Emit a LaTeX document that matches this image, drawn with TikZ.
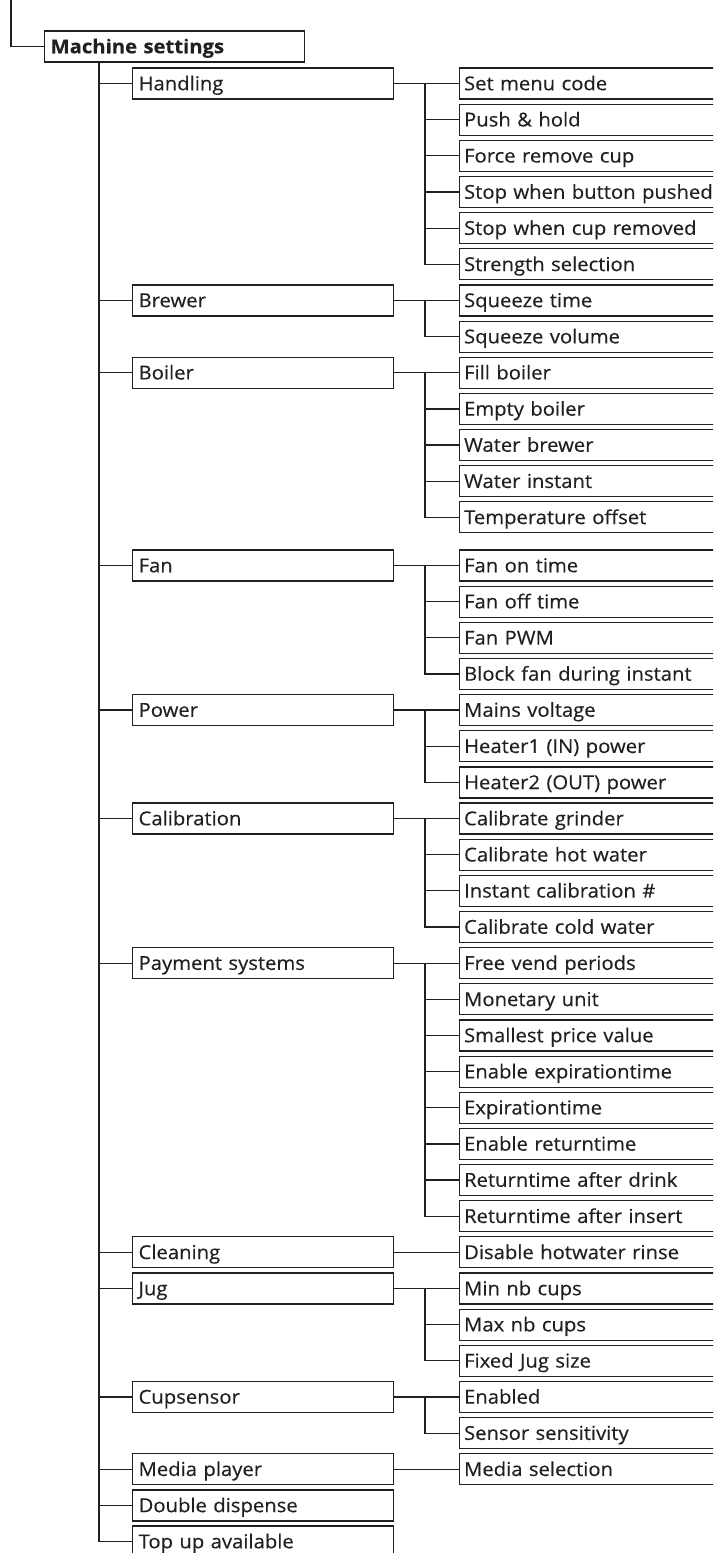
\documentclass[tikz,border=0pt]{standalone}
\usepackage{fontspec}
\setmainfont{Open Sans}[FakeStretch=1.055,FakeBold=0.35]
\usepackage{tikz}

\definecolor{ink}{RGB}{35,31,32}

\begin{document}
\begin{tikzpicture}[x=1pt,y=-1pt,color=ink,line width=1.2pt,
    font=\fontsize{19.2}{20}\selectfont,
    box/.style={draw,anchor=west,minimum height=31pt,inner xsep=6pt,
      text height=13.5pt,text depth=0pt,align=left},
    head/.style={box,text width=248pt,font=\fontsize{19.2}{20}\selectfont\bfseries},
    menu/.style={box,text width=249pt},
    item/.style={box,inner xsep=4.5pt,text width=300pt}]
  \useasboundingbox (0,0) rectangle (713,1553);
  \clip (0,0) rectangle (713,1553);

  \node[head] (ms) at (44,46.5) {Machine settings};
  \coordinate (top) at (11,0);
  \coordinate (trunk) at (99,62);
  \draw (top) |- (ms.west);

  \node[menu] (hand) at (132,83.5) {Handling};
  \node[menu] (brew) at (132,300.4) {Brewer};
  \node[menu] (boil) at (132,372.7) {Boiler};
  \node[menu] (fan) at (132,565.5) {Fan};
  \node[menu] (pow) at (132,710) {Power};
  \node[menu] (cal) at (132,818.5) {Calibration};
  \node[menu] (pay) at (132,963.1) {Payment systems};
  \node[menu] (clean) at (132,1252.3) {Cleaning};
  \node[menu] (jug) at (132,1288.5) {Jug};
  \node[menu] (cups) at (132,1396.9) {Cupsensor};
  \node[menu] (media) at (132,1469.2) {Media player};
  \node[menu] (dbl) at (132,1505.4) {Double dispense};
  \node[menu] (topup) at (132,1541.5) {Top up available};

  \foreach \m in {hand,brew,boil,fan,pow,cal,pay,clean,jug,cups,media,dbl,topup}
    \draw (trunk) |- (\m.west);

  % Handling
  \node[item] (code) at (459,83.5) {Set menu code};
  \node[item] (push) at (459,119.7) {Push \& hold};
  \node[item] (force) at (459,155.8) {Force remove cup};
  \node[item] (stopbtn) at (459,192) {Stop when button pushed};
  \node[item] (stopcup) at (459,228.1) {Stop when cup removed};
  \node[item] (strength) at (459,264.3) {Strength selection};
  \coordinate (jhand) at (425,83.5);
  \draw (hand.east) -- (code.west);
  \foreach \c in {push,force,stopbtn,stopcup,strength}
    \draw (jhand) |- (\c.west);

  % Brewer
  \node[item] (sqtime) at (459,300.4) {Squeeze time};
  \node[item] (sqvol) at (459,336.6) {Squeeze volume};
  \coordinate (jbrew) at (425,300.4);
  \draw (brew.east) -- (sqtime.west);
  \draw (jbrew) |- (sqvol.west);

  % Boiler
  \node[item] (fill) at (459,372.7) {Fill boiler};
  \node[item] (empty) at (459,408.9) {Empty boiler};
  \node[item] (wbrew) at (459,445) {Water brewer};
  \node[item] (winst) at (459,481.2) {Water instant};
  \node[item] (toff) at (459,517.3) {Temperature offset};
  \coordinate (jboil) at (425,372.7);
  \draw (boil.east) -- (fill.west);
  \foreach \c in {empty,wbrew,winst,toff}
    \draw (jboil) |- (\c.west);

  % Fan
  \node[item] (fon) at (459,565.5) {Fan on time};
  \node[item] (foff) at (459,601.6) {Fan off time};
  \node[item] (pwm) at (459,637.8) {Fan PWM};
  \node[item] (block) at (459,673.9) {Block fan during instant};
  \coordinate (jfan) at (425,565.5);
  \draw (fan.east) -- (fon.west);
  \foreach \c in {foff,pwm,block}
    \draw (jfan) |- (\c.west);

  % Power
  \node[item] (mains) at (459,710) {Mains voltage};
  \node[item] (heat1) at (459,746.2) {Heater1 (IN) power};
  \node[item] (heat2) at (459,782.4) {Heater2 (OUT) power};
  \coordinate (jpow) at (425,710);
  \draw (pow.east) -- (mains.west);
  \foreach \c in {heat1,heat2}
    \draw (jpow) |- (\c.west);

  % Calibration
  \node[item] (grind) at (459,818.5) {Calibrate grinder};
  \node[item] (hot) at (459,854.7) {Calibrate hot water};
  \node[item] (inst) at (459,890.8) {Instant calibration \#};
  \node[item] (cold) at (459,927) {Calibrate cold water};
  \coordinate (jcal) at (425,818.5);
  \draw (cal.east) -- (grind.west);
  \foreach \c in {hot,inst,cold}
    \draw (jcal) |- (\c.west);

  % Payment systems
  \node[item] (free) at (459,963.1) {Free vend periods};
  \node[item] (unit) at (459,999.3) {Monetary unit};
  \node[item] (price) at (459,1035.4) {Smallest price value};
  \node[item] (enexp) at (459,1071.6) {Enable expirationtime};
  \node[item] (exp) at (459,1107.7) {Expirationtime};
  \node[item] (enret) at (459,1143.9) {Enable returntime};
  \node[item] (retdrink) at (459,1180) {Returntime after drink};
  \node[item] (retins) at (459,1216.2) {Returntime after insert};
  \coordinate (jpay) at (425,963.1);
  \draw (pay.east) -- (free.west);
  \foreach \c in {unit,price,enexp,exp,enret,retdrink,retins}
    \draw (jpay) |- (\c.west);

  % Cleaning
  \node[item] (rinse) at (459,1252.3) {Disable hotwater rinse};
  \draw (clean.east) -- (rinse.west);

  % Jug
  \node[item] (minc) at (459,1288.5) {Min nb cups};
  \node[item] (maxc) at (459,1324.6) {Max nb cups};
  \node[item] (fixed) at (459,1360.8) {Fixed Jug size};
  \coordinate (jjug) at (425,1288.5);
  \draw (jug.east) -- (minc.west);
  \foreach \c in {maxc,fixed}
    \draw (jjug) |- (\c.west);

  % Cupsensor
  \node[item] (enab) at (459,1396.9) {Enabled};
  \node[item] (sens) at (459,1433.1) {Sensor sensitivity};
  \coordinate (jcups) at (425,1396.9);
  \draw (cups.east) -- (enab.west);
  \draw (jcups) |- (sens.west);

  % Media player
  \node[item] (msel) at (459,1469.2) {Media selection};
  \draw (media.east) -- (msel.west);
\end{tikzpicture}
\end{document}
